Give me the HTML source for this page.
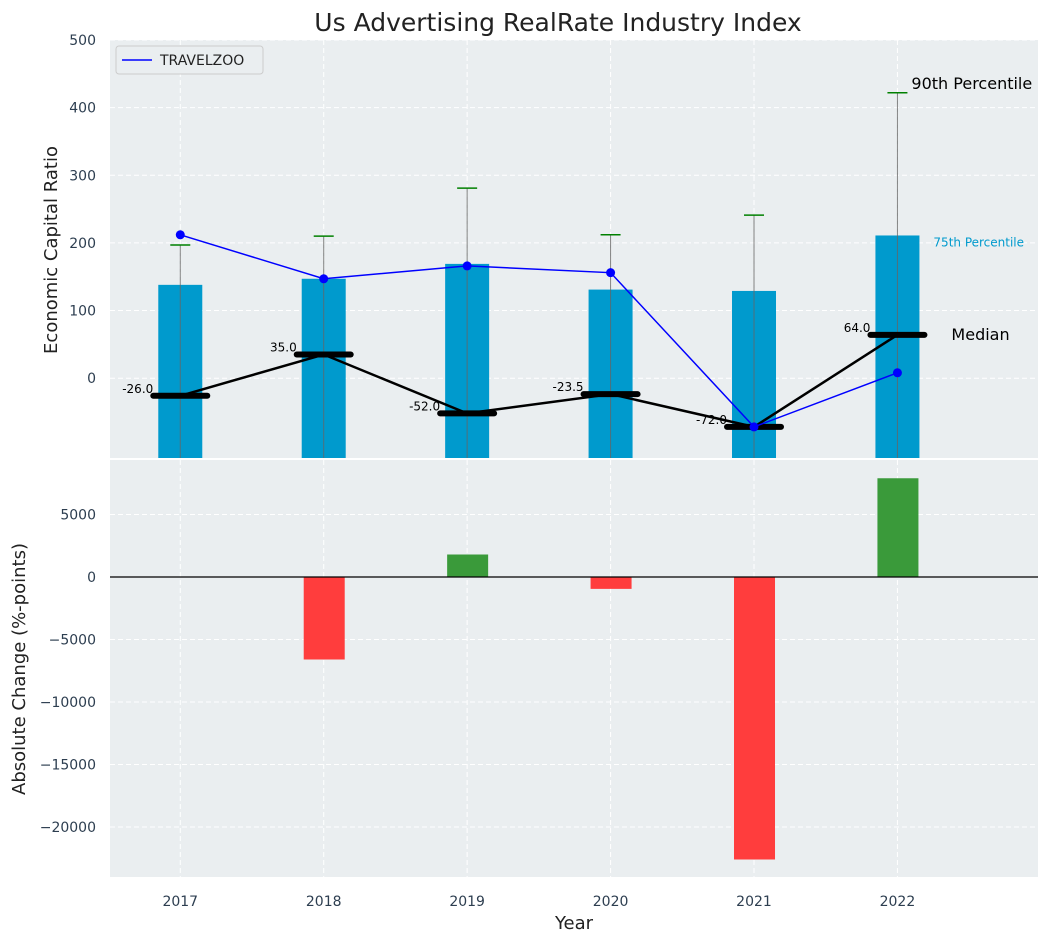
<!DOCTYPE html>
<html><head><meta charset="utf-8"><style>
body{margin:0;background:#fff;font-family:"Liberation Sans","DejaVu Sans",sans-serif}
</style></head><body>
<svg id="c" width="1048" height="942" xmlns="http://www.w3.org/2000/svg" style="font-family:'DejaVu Sans','Liberation Sans',sans-serif"></svg>
<script>
const years=[2017,2018,2019,2020,2021,2022];
const bar75=[138,147,169,131,129,211];
const p90=[197,210,281,212,241,422];
const medians=[-26,35,-52,-23.5,-72,64];
const travelzoo=[212,147,166,156,-72,8];
const changes=[0,-6600,1800,-950,-22600,7900];
const topTicks=[0,100,200,300,400,500];
const botTicks=[-20000,-15000,-10000,-5000,0,5000];

const svg=document.getElementById('c');
const NS='http://www.w3.org/2000/svg';
function el(t,a,p){const e=document.createElementNS(NS,t);for(const k in a)e.setAttribute(k,a[k]);(p||svg).appendChild(e);return e;}
const L=110,R=1038;
const x=v=>L+(v-2016.51)/(2022.98-2016.51)*(R-L);
const T0=40,T1=458,B0=460,B1=877;
const yT=v=>T0+(500-v)/(500+118)*(T1-T0);
const yB=v=>B0+(9360-v)/(9360+24000)*(B1-B0);

el('text',{x:558,y:31,'font-size':25,'text-anchor':'middle',fill:'#222',}).textContent='Us Advertising RealRate Industry Index';

// top panel
const gT=el('g',{});
el('rect',{x:L,y:T0,width:R-L,height:T1-T0,fill:'#eaeef0'},gT);
topTicks.forEach(t=>{
  el('line',{x1:L,x2:R,y1:yT(t),y2:yT(t),stroke:'#fff','stroke-dasharray':'5,3','stroke-width':1},gT);
  const tx=el('text',{x:L-14,y:yT(t)+5,'font-size':14,'text-anchor':'end',fill:'#2d3e50'},gT);
  tx.textContent=t;
});
years.forEach((yr,i)=>{
  el('line',{x1:x(yr),x2:x(yr),y1:T0,y2:T1,stroke:'#fff','stroke-dasharray':'5,3'},gT);
  const b=el('rect',{x:x(yr)-22,y:yT(bar75[i]),width:44,height:T1-yT(bar75[i]),fill:'#009acd'},gT);
  
  el('line',{x1:x(yr),x2:x(yr),y1:T1,y2:yT(p90[i]),stroke:'#666','stroke-width':1,opacity:0.8},gT);
  el('line',{x1:x(yr)-10,x2:x(yr)+10,y1:yT(p90[i]),y2:yT(p90[i]),stroke:'green','stroke-width':1.5},gT);
});
el('polyline',{points:years.map((yr,i)=>x(yr)+','+yT(medians[i])).join(' '),fill:'none',stroke:'#000','stroke-width':2.5,},gT);
years.forEach((yr,i)=>{
  const m=el('line',{x1:x(yr)-27,x2:x(yr)+27,y1:yT(medians[i]),y2:yT(medians[i]),stroke:'#000','stroke-width':6,'stroke-linecap':'round'},gT);
  
  const t=el('text',{x:x(yr)-27,y:yT(medians[i])-3,'font-size':12,'text-anchor':'end',fill:'#000'},gT);
  t.textContent=medians[i].toFixed(1);
});
el('polyline',{points:years.map((yr,i)=>x(yr)+','+yT(travelzoo[i])).join(' '),fill:'none',stroke:'blue','stroke-width':1.5,},gT);
years.forEach((yr,i)=>{el('circle',{cx:x(yr),cy:yT(travelzoo[i]),r:4.5,fill:'blue'},gT);});
el('text',{x:x(2022)+14,y:yT(p90[5])-4,'font-size':16,fill:'#000',}).textContent='90th Percentile';
el('text',{x:x(2022)+36,y:yT(bar75[5])+11,'font-size':12,fill:'#009acd',}).textContent='75th Percentile';
el('text',{x:x(2022)+54,y:yT(medians[5])+5,'font-size':16,fill:'#000',}).textContent='Median';
const lg=el('g',{},gT);
el('rect',{x:116,y:46,width:147,height:28,rx:3,fill:'#eaeef0',stroke:'#ccc'},lg);
el('line',{x1:122,x2:152,y1:60,y2:60,stroke:'blue','stroke-width':1.5},lg);
el('text',{x:160,y:65,'font-size':14,fill:'#222'},lg).textContent='TRAVELZOO';
el('text',{x:0,y:0,'font-size':18,fill:'#222','text-anchor':'middle',transform:'translate(57,250) rotate(-90)',}).textContent='Economic Capital Ratio';

// bottom panel
const gB=el('g',{});
el('rect',{x:L,y:B0,width:R-L,height:B1-B0,fill:'#eaeef0'},gB);
botTicks.forEach(t=>{
  el('line',{x1:L,x2:R,y1:yB(t),y2:yB(t),stroke:'#fff','stroke-dasharray':'5,3'},gB);
  const tx=el('text',{x:L-14,y:yB(t)+5,'font-size':14,'text-anchor':'end',fill:'#2d3e50'},gB);
  
  tx.textContent=t<0?'\u2212'+Math.abs(t):t;
});
years.forEach((yr,i)=>{
  el('line',{x1:x(yr),x2:x(yr),y1:B0,y2:B1,stroke:'#fff','stroke-dasharray':'5,3'},gB);
  const v=changes[i];
  if(v!==0){
    const b=el('rect',{x:x(yr)-20,y:Math.min(yB(v),yB(0)),width:41,height:Math.abs(yB(v)-yB(0)),fill:v>0?'#3a9a3a':'#ff3d3d'},gB);
    
  }
  const t=el('text',{x:x(yr),y:B1+29,'font-size':14,'text-anchor':'middle',fill:'#2d3e50'},gB);
  t.textContent=yr;
});
el('line',{x1:L,x2:R,y1:yB(0),y2:yB(0),stroke:'#000','stroke-width':1.2},gB);
el('text',{x:0,y:0,'font-size':18,fill:'#222','text-anchor':'middle',transform:'translate(25,669) rotate(-90)',}).textContent='Absolute Change (%-points)';
el('text',{x:574,y:929,'font-size':18,fill:'#222','text-anchor':'middle',}).textContent='Year';
</script>
</body></html>
